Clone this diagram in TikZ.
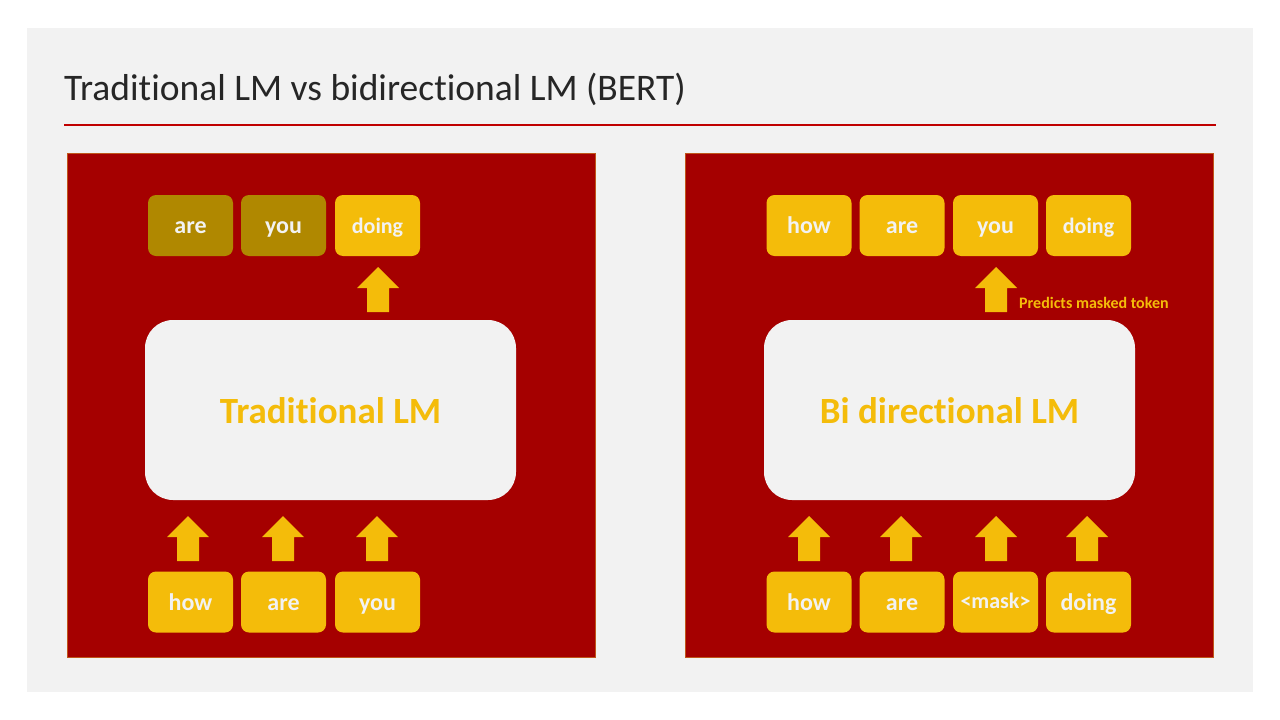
\documentclass[tikz,border=0pt]{standalone}
\usepackage{fontspec}
\setmainfont[Ligatures=NoCommon]{Carlito}
\definecolor{slidebg}{HTML}{F2F2F2}
\definecolor{panelred}{HTML}{A50000}
\definecolor{paneledge}{HTML}{C0561A}
\definecolor{gold}{HTML}{F4BC0A}
\definecolor{darkgold}{HTML}{B08800}
\definecolor{rule}{HTML}{C00000}
\definecolor{titlegray}{HTML}{262626}
\tikzset{
  panel/.style={fill=panelred, draw=paneledge, line width=0.8pt},
  token/.style={fill=gold, draw=none, rounded corners=8pt, minimum width=85pt, minimum height=61pt,
    inner sep=0pt, text height=16pt, text depth=0pt, text=slidebg, font=\fontsize{24}{26}\selectfont\bfseries},
  smalltok/.style={font=\fontsize{22}{24}\selectfont\bfseries},
  oldtoken/.style={token, fill=darkgold},
  model/.style={fill=slidebg, draw=none, rounded corners=28pt, minimum width=371pt, minimum height=180pt,
    text height=26pt, text depth=0pt, text=gold, font=\fontsize{37}{40}\selectfont\bfseries},
  blkarrow/.style={fill=gold, draw=none}
}
\newcommand{\uparrowshape}[2]{% center x, tip y
  \fill[blkarrow] (#1,#2) -- ++(21,21) -- ++(-10,0) -- ++(0,24) -- ++(-22,0) -- ++(0,-24) -- ++(-10,0) -- cycle;}
\begin{document}
\begin{tikzpicture}[x=1pt,y=-1pt]
\useasboundingbox (0,0) rectangle (1280,720);
\fill[white] (0,0) rectangle (1280,720);
\fill[slidebg] (27,28) rectangle (1253,692);
\node[anchor=base west, inner sep=0pt, text=titlegray, font=\fontsize{37.5}{40}\selectfont] (title) at (64,100) {Traditional LM vs bidirectional LM (BERT)};
\draw[rule, line width=2pt] (64,125) -- (1216,125);
% panels
\draw[panel] (67,153) rectangle (595,657);
\draw[panel] (685,153) rectangle (1213,657);
% left panel
\node[oldtoken] (lt1) at (190.5,225.5) {are};
\node[oldtoken] (lt2) at (283.5,225.5) {you};
\node[token, smalltok] (lt3) at (377.5,225.5) {doing};
\node[model] (lm) at (330.5,410) {Traditional LM};
\node[token] (lb1) at (190.5,602) {how};
\node[token] (lb2) at (283.5,602) {are};
\node[token] (lb3) at (377.5,602) {you};
\uparrowshape{378}{267}
\uparrowshape{188}{516}
\uparrowshape{283}{516}
\uparrowshape{377}{516}
% right panel
\node[token] (rt1) at (809,225.5) {how};
\node[token] (rt2) at (902,225.5) {are};
\node[token] (rt3) at (995.5,225.5) {you};
\node[token, smalltok] (rt4) at (1088.5,225.5) {doing};
\node[model] (bm) at (949.5,410) {Bi directional LM};
\node[token] (rb1) at (809,602) {how};
\node[token] (rb2) at (902,602) {are};
\node[token, smalltok, text height=12pt] (rb3) at (995.5,602) {<mask>};
\node[token] (rb4) at (1088.5,602) {doing};
\uparrowshape{996}{267}
\uparrowshape{809}{516}
\uparrowshape{901}{516}
\uparrowshape{996}{516}
\uparrowshape{1087}{516}
\node[anchor=base west, inner sep=0pt, text=gold, font=\fontsize{16}{18}\selectfont\bfseries] (pred) at (1019,308) {Predicts masked token};
\end{tikzpicture}
\end{document}
